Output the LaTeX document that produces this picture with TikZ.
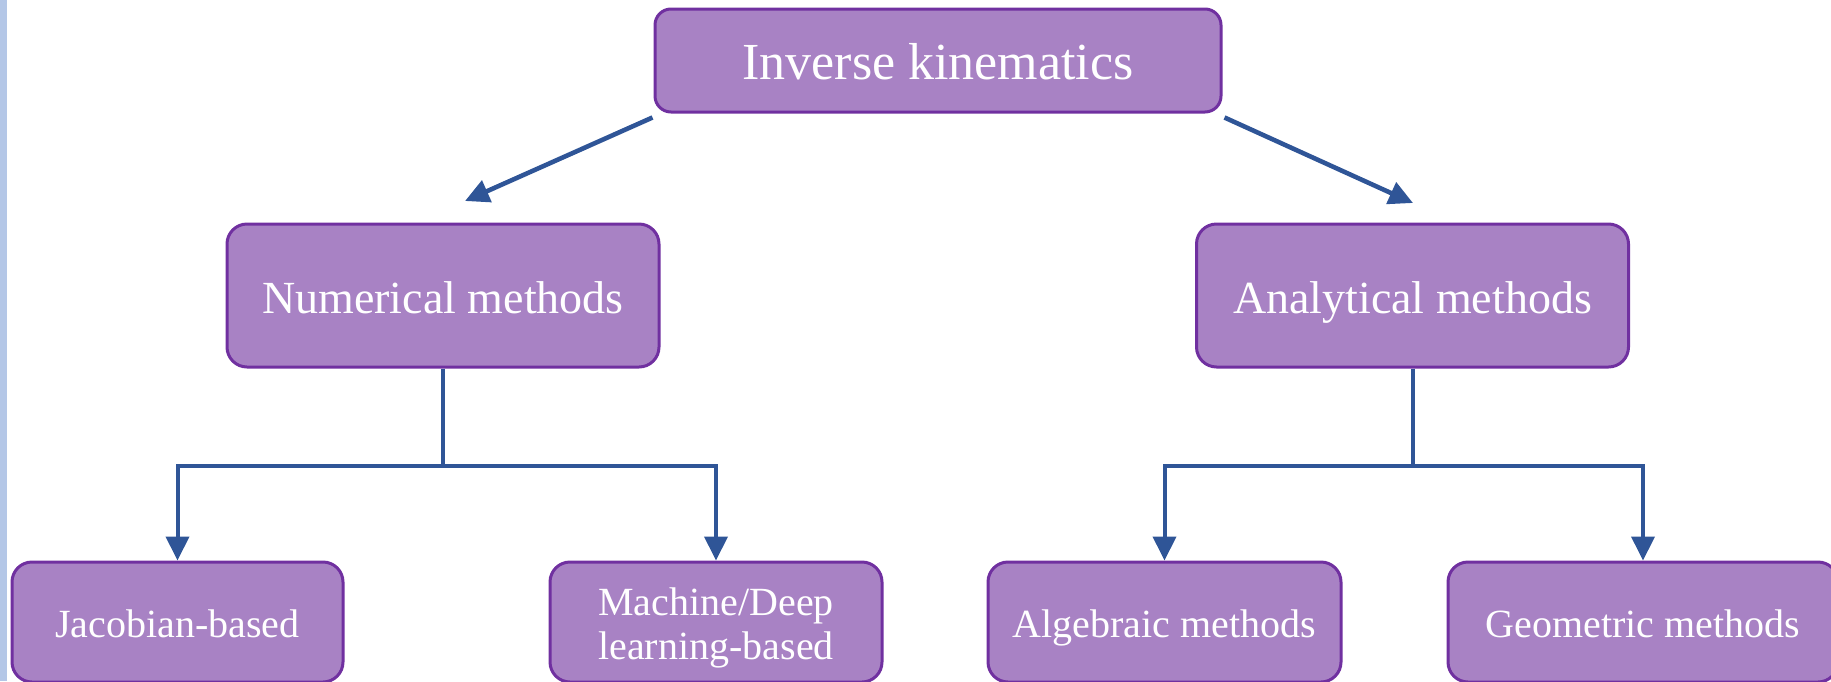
\documentclass[tikz,border=0pt]{standalone}
\usepackage{fontspec}
\setmainfont{Liberation Serif}
\usetikzlibrary{arrows.meta}
\usetikzlibrary{calc}
\definecolor{boxfill}{HTML}{A882C4}
\definecolor{boxline}{HTML}{7030A0}
\definecolor{arrowblue}{HTML}{2F5597}
\definecolor{sidebar}{HTML}{B4C7E7}
\tikzset{
  method/.style={draw=boxline,line width=1.5pt,fill=boxfill,rounded corners=10pt,
    text=white,align=center,inner sep=0pt},
  big/.style={font=\fontsize{26}{30}\selectfont,text height=25pt,text depth=5.7pt},
  mid/.style={font=\fontsize{23}{27}\selectfont,text height=22.9pt,text depth=5.1pt},
  small/.style={font=\fontsize{20}{22}\selectfont,text height=19.8pt,text depth=4.4pt},
  link/.style={draw=arrowblue,line width=2pt,-{Triangle[length=12pt,width=11.5pt]}},
  trunk/.style={draw=arrowblue,line width=2pt}
}
\begin{document}
\begin{tikzpicture}[x=0.5pt,y=-0.5pt]
                \useasboundingbox (0,0) rectangle (1831,681);
                \fill[sidebar] (0,0) rectangle (7,681);
                \node[method,big,rounded corners=8pt,minimum width=283pt,minimum height=51.5pt] (IK) at (938,60.5) {Inverse kinematics};
                \node[method,mid,minimum width=216pt,minimum height=71.5pt] (NM) at (443,295.5) {Numerical methods};
                \node[method,mid,minimum width=216pt,minimum height=71.5pt] (AM) at (1412.5,295.5) {Analytical methods};
                \node[method,small,minimum width=165.5pt,minimum height=60pt] (JB) at (177.5,622) {Jacobian-based};
                \node[method,minimum width=166pt,minimum height=60pt,font=\fontsize{20}{22}\selectfont] (ML) at (716,622) {\\[-2pt]Machine/Deep\\learning-based};
                \node[method,small,minimum width=176.5pt,minimum height=60pt] (AL) at (1164.5,622) {Algebraic methods};
                \node[method,small,minimum width=195pt,minimum height=60pt] (GM) at (1643,622) {Geometric methods};
                \coordinate (NMtip) at (465,201);
                \coordinate (AMtip) at (1413,203);
                \draw[link,line width=2.3pt] ($(IK.south west)+(-1,4)$) -- (NMtip);
                \draw[link,line width=2.3pt] ($(IK.south east)+(2,4)$) -- (AMtip);
                \coordinate (NMfork) at ($(NM.south)+(0,97)$);
                \coordinate (AMfork) at ($(AM.south)+(0,97)$);
                \draw[trunk] (NM.south) -- (NMfork);
                \draw[link] (NMfork) -| (JB.north);
                \draw[link] (NMfork) -| (ML.north);
                \draw[trunk] (AM.south) -- (AMfork);
                \draw[link] (AMfork) -| (AL.north);
                \draw[link] (AMfork) -| (GM.north);
            \end{tikzpicture}
\end{document}
